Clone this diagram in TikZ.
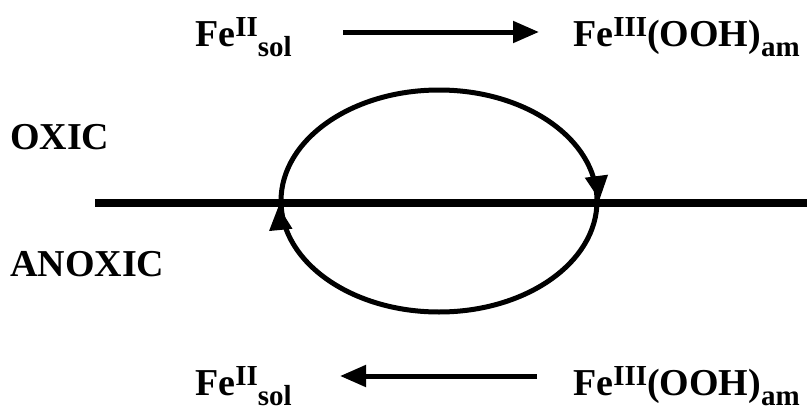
\documentclass[tikz,border=0pt]{standalone}
\usepackage{fontspec}
\setmainfont{Liberation Serif}
\usetikzlibrary{arrows.meta,shapes.geometric,calc}
\newcommand\mysup[1]{\raisebox{10pt}{\fontsize{29}{29}\selectfont #1}}
\newcommand\mysub[1]{\raisebox{-10pt}{\fontsize{29}{29}\selectfont #1}}
\begin{document}
\begin{tikzpicture}[x=1pt,y=-1pt,
  lbl/.style={inner sep=0pt,anchor=base west,font=\fontsize{38}{40}\selectfont\bfseries},
  rxn/.style={line width=5pt,-{Triangle[length=26pt,width=21pt]}},
  cycarrow/.style={line width=5pt,-{Triangle[length=24pt,width=22pt]}}]
\useasboundingbox (0,0) rectangle (807,410);
% labels
\node[lbl] (oxic) at (10,149) {OXIC};
\node[lbl] (anoxic) at (10,276) {ANOXIC};
\node[lbl] (fe2top) at (195,46) {Fe\mysup{II}\mysub{sol}};
\node[lbl] (fe3top) at (573,46) {Fe\mysup{III}(OOH)\mysub{am}};
\node[lbl] (fe2bot) at (195,395) {Fe\mysup{II}\mysub{sol}};
\node[lbl] (fe3bot) at (573,395) {Fe\mysup{III}(OOH)\mysub{am}};
% reaction arrows
\coordinate (ta) at (343,32);
\coordinate (tb) at (539,32);
\coordinate (ba) at (537,376);
\coordinate (bb) at (340,376);
\draw[rxn] (ta) -- (tb);
\draw[rxn] (ba) -- (bb);
% interface line
\coordinate (lineL) at (95,203);
\coordinate (lineR) at (807,203);
\draw[line width=8pt] (lineL) -- (lineR);
% cycle
\node[draw,ellipse,line width=5pt,minimum width=316pt,minimum height=222pt,inner sep=0pt] (cyc) at (439,201) {};
\draw[cycarrow] ($(cyc.east)+(-3,-24)$) -- ($(cyc.east)+(0,-1)$);
\draw[cycarrow] ($(cyc.west)+(2,26)$) -- ($(cyc.west)+(0,5)$);
\end{tikzpicture}
\end{document}
